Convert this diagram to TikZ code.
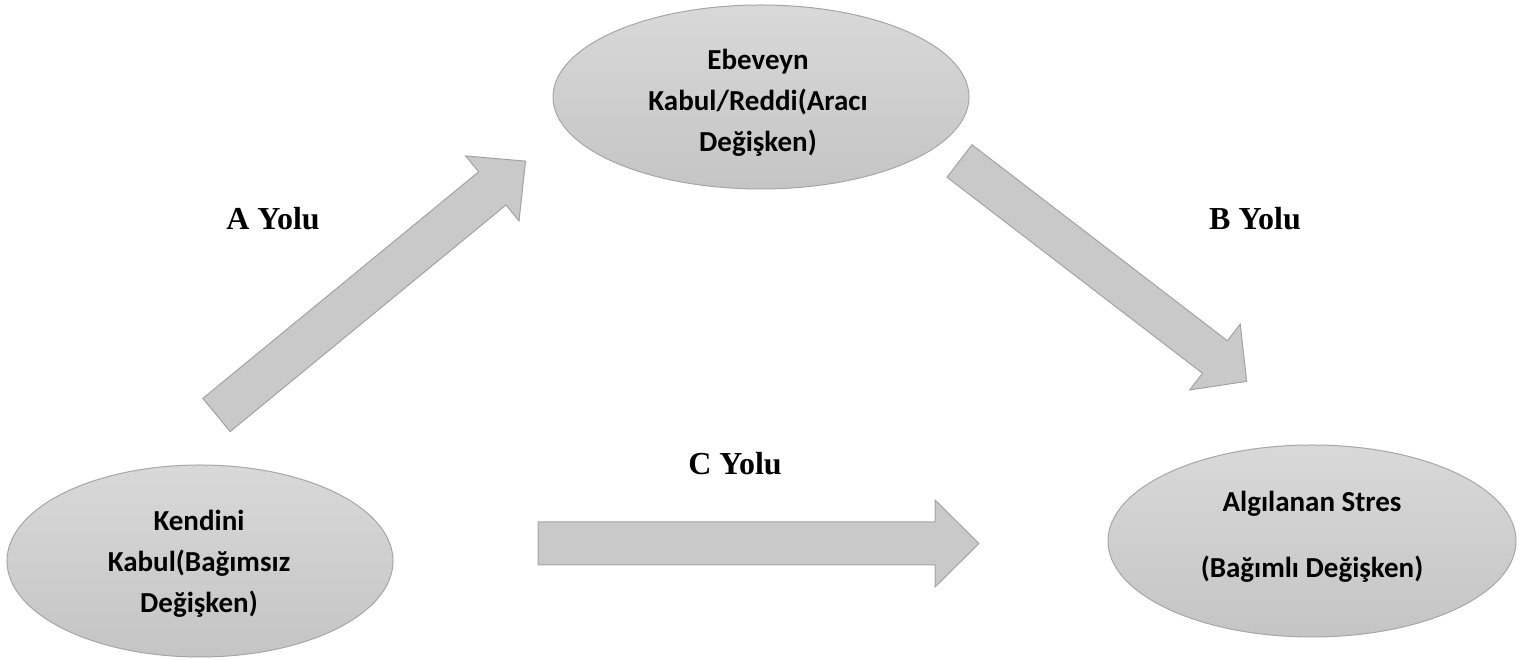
\documentclass[tikz,border=0pt]{standalone}
\usepackage{fontspec}
\setmainfont{Liberation Serif}
\newfontfamily\calfont{Carlito}
\usetikzlibrary{shapes.geometric}
\definecolor{ellfill}{HTML}{CFCFCF}
\definecolor{ellline}{HTML}{A6A6A6}
\definecolor{arrfill}{HTML}{C9C9C9}
\definecolor{arrline}{HTML}{A3A3A3}
\tikzset{
  var/.style={ellipse, draw=ellline, line width=1pt, top color=ellfill!80!white, bottom color=ellfill!95!black, inner sep=0pt},
  vartext/.style={inner sep=0pt, align=center, font=\calfont\bfseries\fontsize{29}{41}\selectfont},
  pathlabel/.style={anchor=base, inner sep=0pt, font=\bfseries\fontsize{32}{36}\selectfont},
  blockarrow/.style={draw=arrline, line width=1pt, fill=arrfill, line join=miter}
}
% #1 tail midpoint, #2 angle, #3 length, #4 shaft width, #5 head width, #6 head length
\newcommand\blockarr[6]{%
  \begin{scope}[shift={#1}, rotate=#2]
    \draw[blockarrow] (0,-#4/2) -- (#3-#6,-#4/2) -- (#3-#6,-#5/2) -- (#3,0)
      -- (#3-#6,#5/2) -- (#3-#6,#4/2) -- (0,#4/2) -- cycle;
  \end{scope}}
\begin{document}
\begin{tikzpicture}[x=1pt,y=1pt]
\useasboundingbox (0,0) rectangle (1524,660);
\node[var, minimum width=416, minimum height=184] (med) at (761,563) {};
\node[var, minimum width=386, minimum height=192] (ind) at (200,99) {};
\node[var, minimum width=408, minimum height=192] (dep) at (1312,119) {};
\node[vartext] (medt) at (758,557) {Ebeveyn\\Kabul/Reddi(Aracı\\Değişken)};
\node[vartext] (indt) at (199,96) {Kendini\\Kabul(Bağımsız\\Değişken)};
\node[vartext] (dept) at (1312,123.5) {Algılanan Stres\\[25pt](Bağımlı Değişken)};
\blockarr{(216.5,245)}{39.4}{400}{43}{84}{43}
\blockarr{(959.5,499)}{-37.5}{362}{41}{83}{40}
\blockarr{(538,116.5)}{0}{441}{43}{87}{44}
\node[pathlabel] (la) at (273,430) {A Yolu};
\node[pathlabel] (lb) at (1255,430) {B Yolu};
\node[pathlabel] (lc) at (735,185) {C Yolu};
\end{tikzpicture}
\end{document}
